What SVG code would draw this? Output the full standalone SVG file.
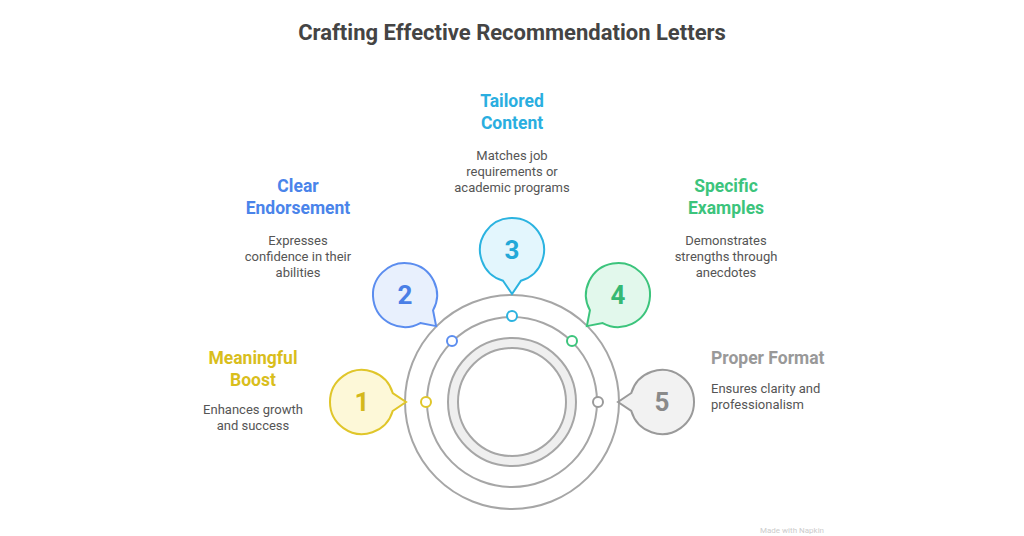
<svg xmlns="http://www.w3.org/2000/svg" width="1024" height="536" viewBox="0 0 1024 536">
<style>
text{font-family:Roboto,"Liberation Sans",sans-serif}
.t{font-size:17.5px;font-weight:bold;text-anchor:middle}
.d{font-size:13px;fill:#555;text-anchor:middle}
.n{font-size:26px;font-weight:bold;text-anchor:middle}
.ring{fill:none;stroke:#a6a6a6;stroke-width:2}
.bub{stroke-width:2}
</style>
<defs><path id="b" d="M-9,30.7 L0,44 L9,30.7 A32 32 0 1 0 -9,30.7 Z"/></defs>
<rect width="1024" height="536" fill="#fff"/>
<text x="512" y="40" font-size="22" font-weight="bold" fill="#444" text-anchor="middle">Crafting Effective Recommendation Letters</text>
<g id="core">
<circle cx="512" cy="402" r="107" class="ring"/>
<circle cx="512" cy="402" r="85" class="ring"/>
<circle cx="512" cy="402" r="59" fill="none" stroke="#efefef" stroke-width="10"/>
<circle cx="512" cy="402" r="64" class="ring"/>
<circle cx="512" cy="402" r="54" class="ring"/>
</g>
<g id="connectors" stroke-width="2" fill="#fff">
<circle cx="426" cy="402" r="5" stroke="#e0c62a"/>
<circle cx="452" cy="341" r="5" stroke="#5b8def"/>
<circle cx="512" cy="316" r="5" stroke="#2bb3e0"/>
<circle cx="572" cy="341" r="5" stroke="#3cc47c"/>
<circle cx="598" cy="402" r="5" stroke="#9a9a9a"/>
</g>
<g id="n1">
<use href="#b" transform="translate(362,402) rotate(-90)" class="bub" fill="#fdf8d8" stroke="#e0c62a"/>
<text x="362" y="411" class="n" fill="#d4b81c">1</text>
<text x="253" y="364" class="t" fill="#d9be1c">Meaningful</text>
<text x="253" y="386" class="t" fill="#d9be1c">Boost</text>
<text x="253" y="414" class="d">Enhances growth</text>
<text x="253" y="430" class="d">and success</text>
</g>
<g id="n2">
<use href="#b" transform="translate(405,295) rotate(-45)" class="bub" fill="#e8f0fd" stroke="#5b8def"/>
<text x="405" y="304" class="n" fill="#4a7fe6">2</text>
<text x="298" y="192" class="t" fill="#4a84ea">Clear</text>
<text x="298" y="214" class="t" fill="#4a84ea">Endorsement</text>
<text x="298" y="245" class="d">Expresses</text>
<text x="298" y="261" class="d">confidence in their</text>
<text x="298" y="277" class="d">abilities</text>
</g>
<g id="n3">
<use href="#b" transform="translate(512,250)" class="bub" fill="#e3f6fd" stroke="#2bb3e0"/>
<text x="512" y="259" class="n" fill="#22a8d8">3</text>
<text x="512" y="107" class="t" fill="#2aaee0">Tailored</text>
<text x="512" y="129" class="t" fill="#2aaee0">Content</text>
<text x="512" y="160" class="d">Matches job</text>
<text x="512" y="176" class="d">requirements or</text>
<text x="512" y="192" class="d">academic programs</text>
</g>
<g id="n4">
<use href="#b" transform="translate(618,295) rotate(45)" class="bub" fill="#e2f8ec" stroke="#3cc47c"/>
<text x="618" y="304" class="n" fill="#35b873">4</text>
<text x="726" y="192" class="t" fill="#3cc47c">Specific</text>
<text x="726" y="214" class="t" fill="#3cc47c">Examples</text>
<text x="726" y="245" class="d">Demonstrates</text>
<text x="726" y="261" class="d">strengths through</text>
<text x="726" y="277" class="d">anecdotes</text>
</g>
<g id="n5">
<use href="#b" transform="translate(662,402) rotate(90)" class="bub" fill="#f2f2f2" stroke="#9a9a9a"/>
<text x="662" y="411" class="n" fill="#8a8a8a">5</text>
<text x="711" y="364" font-size="17.5" font-weight="bold" fill="#999">Proper Format</text>
<text x="711" y="393" font-size="13" fill="#555">Ensures clarity and</text>
<text x="711" y="409" font-size="13" fill="#555">professionalism</text>
</g>
<text x="760" y="533" font-size="8" fill="#ccc">Made with Napkin</text>
</svg>
